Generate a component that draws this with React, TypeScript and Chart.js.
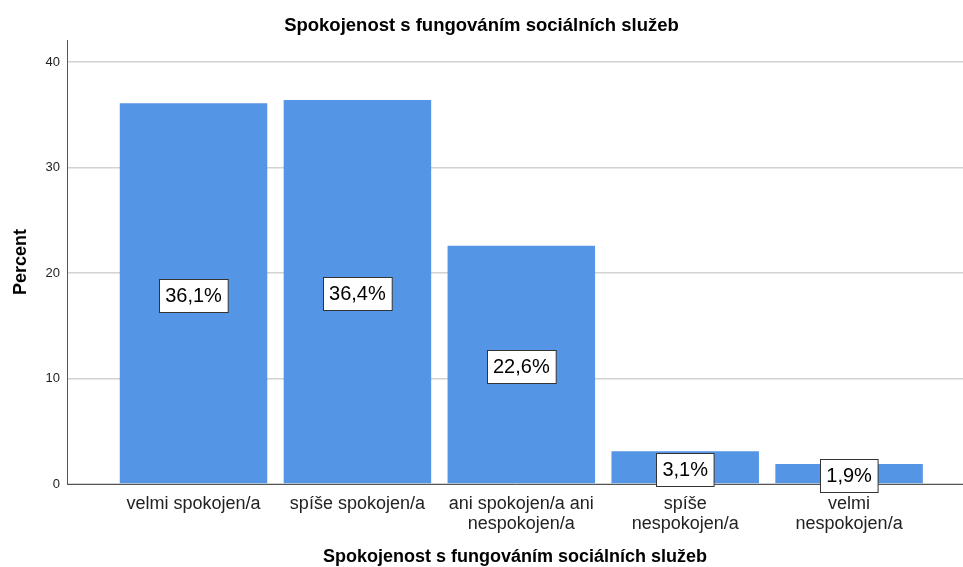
import React, { useEffect, useRef } from "react";
import { Chart, registerables } from "chart.js";

Chart.register(...registerables);

const chartTitle = "Spokojenost s fungováním sociálních služeb";
const xAxisTitle = "Spokojenost s fungováním sociálních služeb";
const yAxisTitle = "Percent";
const categoryLabels: (string | string[])[] = [
  "velmi spokojen/a",
  "spíše spokojen/a",
  ["ani spokojen/a ani", "nespokojen/a"],
  ["spíše", "nespokojen/a"],
  ["velmi", "nespokojen/a"],
];
const percentValues = [36.1, 36.4, 22.6, 3.1, 1.9];
const yTicks = [0, 10, 20, 30, 40];

const FONT = '"Liberation Sans", Arial, sans-serif';

const labelPlugin = {
  id: "boxLabels",
  afterDatasetsDraw(chart: any) {
    const ctx = chart.ctx;
    const meta = chart.getDatasetMeta(0);
    ctx.save();
    ctx.font = `20px ${FONT}`;
    ctx.textAlign = "center";
    ctx.textBaseline = "middle";
    meta.data.forEach((bar: any, i: number) => {
      const { x, y, base } = bar.getProps(["x", "y", "base"], true);
      const text = percentValues[i].toFixed(1).replace(".", ",") + "%";
      const w = ctx.measureText(text).width + 12;
      const h = 33;
      const cy = (y + base) / 2 + 2;
      const bx = Math.round(x - w / 2) + 0.5;
      const by = Math.round(cy - h / 2) + 0.5;
      ctx.fillStyle = "#ffffff";
      ctx.fillRect(bx, by, w, h);
      ctx.strokeStyle = "#333333";
      ctx.lineWidth = 1;
      ctx.strokeRect(bx, by, w, h);
      ctx.fillStyle = "#000000";
      ctx.fillText(text, x, cy + 1);
    });
    ctx.restore();
  },
};

export default function App() {
  const ref = useRef<HTMLCanvasElement | null>(null);
  useEffect(() => {
    if (!ref.current) return;
    const chart = new Chart(ref.current, {
      type: "bar",
      data: {
        datasets: [
          {
            data: percentValues.map((v, i) => ({ x: i, y: v })),
            backgroundColor: "#5595E5",
            borderWidth: 0,
            categoryPercentage: 1,
            barPercentage: 0.9,
          },
        ],
      },
      plugins: [labelPlugin],
      options: {
        animation: false,
        responsive: false,
        devicePixelRatio: 1,
        layout: { padding: { left: 0, right: 0, top: 0, bottom: 0 } },
        plugins: {
          legend: { display: false },
          tooltip: { enabled: false },
          title: {
            display: true,
            text: chartTitle,
            color: "#000",
            font: { family: FONT, size: 18.5, weight: "bold", lineHeight: 1.2 },
            padding: { top: 15, bottom: 2.8 },
          },
        },
        scales: {
          x: {
            type: "linear",
            offset: false,
            min: -0.772,
            max: 4.695,
            afterBuildTicks: (scale: any) => {
              scale.ticks = categoryLabels.map((_, i) => ({ value: i }));
            },
            afterFit: (scale: any) => {
              scale.height = 83;
            },
            grid: { display: false, drawTicks: false, offset: false },
            border: { display: true, color: "#555", width: 1 },
            ticks: {
              autoSkip: false,
              maxRotation: 0,
              minRotation: 0,
              padding: 10,
              color: "#222",
              font: { family: FONT, size: 18, lineHeight: 1.111 },
              callback: (v: any) => categoryLabels[v as number] ?? "",
            },
            title: {
              display: true,
              text: xAxisTitle,
              color: "#000",
              font: { family: FONT, size: 18, weight: "bold", lineHeight: 1 },
              padding: { top: 0, bottom: 1 },
            },
          },
          y: {
            type: "linear",
            min: 0,
            max: 42.1,
            afterBuildTicks: (scale: any) => {
              scale.ticks = yTicks.map((v) => ({ value: v }));
            },
            afterFit: (scale: any) => {
              scale.width = 67;
            },
            grid: { color: "#d2d2d2", lineWidth: 1.5, drawTicks: false },
            border: { display: true, color: "#555", width: 1 },
            ticks: {
              padding: 7,
              color: "#222",
              font: { family: FONT, size: 13 },
            },
            title: {
              display: true,
              text: yAxisTitle,
              color: "#000",
              font: { family: FONT, size: 18, weight: "bold", lineHeight: 1 },
              padding: { top: 12, bottom: 0 },
            },
          },
        },
      } as any,
    });
    return () => chart.destroy();
  }, []);
  return (
    <div style={{ position: "absolute", left: 0, top: 0, width: 963, height: 567, background: "#fff" }}>
      <canvas ref={ref} width={963} height={567} />
    </div>
  );
}
